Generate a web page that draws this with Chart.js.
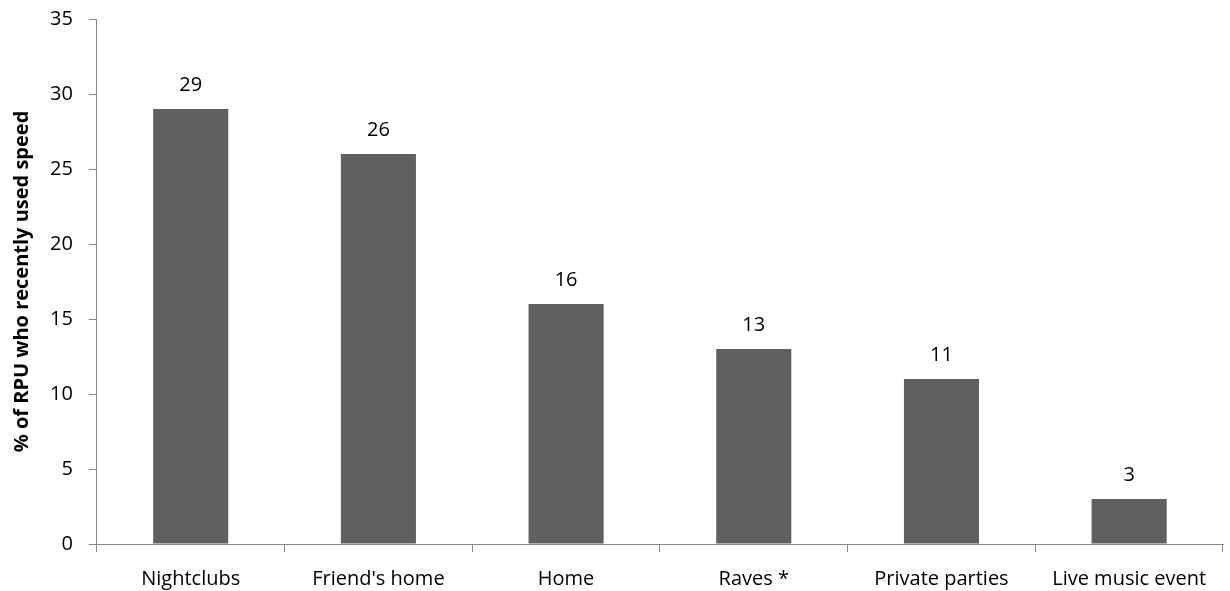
<!DOCTYPE html>
<html>
<head>
<meta charset="utf-8">
<script src="https://cdn.jsdelivr.net/npm/chart.js@4"></script>
<style>
  html, body { margin: 0; padding: 0; background: #fff; }
  #wrap { width: 1230px; height: 591px; }
</style>
</head>
<body>
<div id="wrap"><canvas id="chart" width="1230" height="591"></canvas></div>
<script>
const places = ['Nightclubs', "Friend's home", 'Home', 'Raves *', 'Private parties', 'Live music event'];
const percentUsed = [29, 26, 16, 13, 11, 3];
const yTicks = [0, 5, 10, 15, 20, 25, 30, 35];

const fontFamily = "'Open Sans', 'Noto Sans', sans-serif";

// draws the value above each bar
const valueLabels = {
    id: 'valueLabels',
    afterDatasetsDraw(chart) {
        const ctx = chart.ctx;
        const meta = chart.getDatasetMeta(0);
        ctx.save();
        ctx.font = '20px ' + fontFamily;
        ctx.fillStyle = '#000';
        ctx.textAlign = 'center';
        ctx.textBaseline = 'middle';
        meta.data.forEach((bar, i) => {
            ctx.fillText(percentUsed[i], bar.x, bar.y - 24);
        });
        ctx.restore();
    }
};

new Chart(document.getElementById('chart'), {
    type: 'bar',
    data: {
        labels: places,
        datasets: [{
            data: percentUsed,
            backgroundColor: '#606060',
            categoryPercentage: 1,
            barPercentage: 0.4
        }]
    },
    options: {
        responsive: false,
        animation: false,
        layout: { padding: { top: 19, right: 7, left: 6, bottom: -15 } },
        plugins: { legend: { display: false }, tooltip: { enabled: false } },
        scales: {
            x: {
                grid: { drawOnChartArea: false, color: '#888', tickLength: 8, offset: true },
                border: { color: '#888', width: 1 },
                ticks: { color: '#000', font: { size: 20, family: fontFamily }, padding: 15, maxRotation: 0, autoSkip: false }
            },
            y: {
                min: 0,
                max: 35,
                afterBuildTicks: axis => { axis.ticks = yTicks.map(v => ({ value: v })); },
                afterFit: axis => { axis.paddingTop = 0; },
                grid: { drawOnChartArea: false, color: '#888', tickLength: 8 },
                border: { color: '#888', width: 1 },
                ticks: { color: '#000', font: { size: 20, family: fontFamily }, padding: 16 },
                title: {
                    display: true,
                    text: '% of RPU who recently used speed',
                    color: '#000',
                    font: { size: 20, weight: 'bold', family: fontFamily },
                    padding: { bottom: 0 }
                }
            }
        }
    },
    plugins: [valueLabels]
});
</script>
</body>
</html>
